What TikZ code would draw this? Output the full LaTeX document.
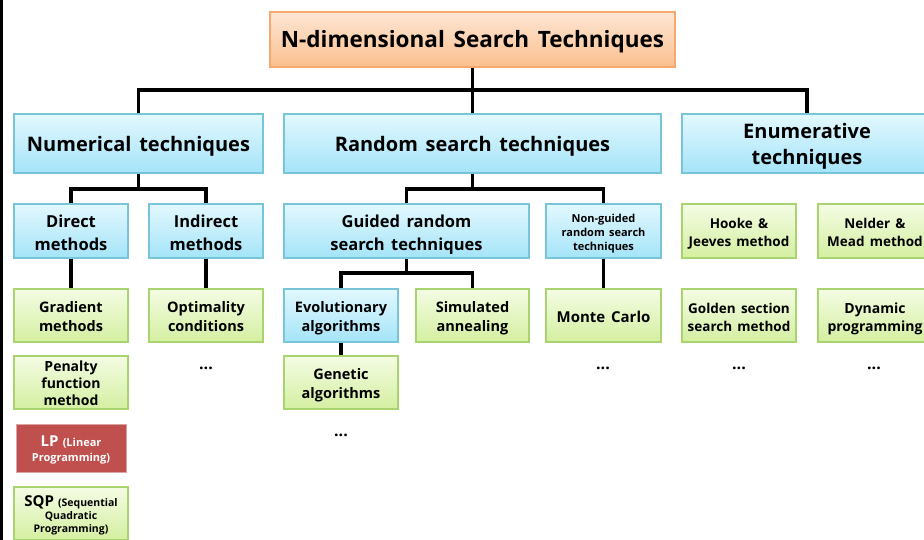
\documentclass[tikz,border=0pt]{standalone}
\usepackage{fontspec}
\setmainfont{Open Sans}[WordSpace=1.5]
\newcommand{\tx}[1]{\raisebox{-3pt}[\height][\depth]{\begin{tabular}{@{}c@{}}#1\end{tabular}}}
\begin{document}
\begin{tikzpicture}[x=1pt,y=-1pt,
  base/.style={rectangle, inner sep=0pt, font=\bfseries, line width=1.2pt},
  obox/.style={base, draw=orgB, top color=orgT, bottom color=orgD},
  bbox/.style={base, draw=bluB, top color=bluT, bottom color=bluD},
  gbox/.style={base, draw=grnB, top color=grnT, bottom color=grnD},
  rbox/.style={base, draw=redB, fill=redF, text=white, line width=0.8pt},
  conn/.style={line width=3.2pt, draw=black},
  dots/.style={inner sep=0pt, font=\bfseries\fontsize{16}{16}\selectfont}
]
\definecolor{orgB}{HTML}{F7A86E}\definecolor{orgT}{HTML}{FDE6D3}\definecolor{orgD}{HTML}{FBC08F}
\definecolor{bluB}{HTML}{78C5DA}\definecolor{bluT}{HTML}{E3F8FE}\definecolor{bluD}{HTML}{A4E4F8}
\definecolor{grnB}{HTML}{A9D36E}\definecolor{grnT}{HTML}{F4FCE4}\definecolor{grnD}{HTML}{D4EFA0}
\definecolor{redB}{HTML}{DDA3A2}\definecolor{redF}{HTML}{C0504D}
\useasboundingbox (0,0) rectangle (924,540);
\fill[white] (0,0) rectangle (924,540);
\fill[black] (0,0) rectangle (3,540);

% title
\node[obox, minimum width=405, minimum height=55, font=\bfseries\fontsize{22.5}{26}\selectfont] (title) at (472.5,39.5) {\tx{N-dimensional Search Techniques}};

% level 1
\node[bbox, minimum width=249, minimum height=59, font=\bfseries\fontsize{20}{26}\selectfont] (num) at (138.5,143.5) {\tx{Numerical techniques}};
\node[bbox, minimum width=377, minimum height=59, font=\bfseries\fontsize{20}{26}\selectfont] (rand) at (472.5,143.5) {\tx{Random search techniques}};
\node[bbox, minimum width=250, minimum height=59, font=\bfseries\fontsize{20}{26}\selectfont] (enum) at (807,143.5) {\tx{Enumerative\\techniques}};

% level 2
\node[bbox, minimum width=114, minimum height=54, font=\bfseries\fontsize{16.5}{23}\selectfont] (direct) at (71,231) {\tx{Direct\\methods}};
\node[bbox, minimum width=114, minimum height=54, font=\bfseries\fontsize{16.5}{23}\selectfont] (indirect) at (206,231) {\tx{Indirect\\methods}};
\node[bbox, minimum width=245, minimum height=54, font=\bfseries\fontsize{16.5}{23}\selectfont] (guided) at (406.5,231) {\tx{Guided random\\search techniques}};
\node[bbox, minimum width=115, minimum height=54, font=\bfseries\fontsize{11}{14}\selectfont] (nonguided) at (603.5,231) {\tx{Non-guided\\random search\\techniques}};
\node[gbox, minimum width=114, minimum height=54, font=\bfseries\fontsize{13.5}{18}\selectfont] (hooke) at (739,231) {\tx{Hooke \&\\Jeeves method}};
\node[gbox, minimum width=114, minimum height=54, font=\bfseries\fontsize{13.5}{18}\selectfont] (nelder) at (875,231) {\tx{Nelder \&\\Mead method}};

% level 3
\node[gbox, minimum width=114, minimum height=53, font=\bfseries\fontsize{14.5}{19}\selectfont] (gradient) at (71,315.5) {\tx{Gradient\\methods}};
\node[gbox, minimum width=114, minimum height=53, font=\bfseries\fontsize{14.5}{19}\selectfont] (optim) at (206,315.5) {\tx{Optimality\\conditions}};
\node[bbox, minimum width=114, minimum height=53, font=\bfseries\fontsize{14.5}{19}\selectfont] (evol) at (341,315.5) {\tx{Evolutionary\\algorithms}};
\node[gbox, minimum width=113, minimum height=53, font=\bfseries\fontsize{14.5}{19}\selectfont] (sim) at (472.5,315.5) {\tx{Simulated\\annealing}};
\node[gbox, minimum width=115, minimum height=53, font=\bfseries\fontsize{15}{19}\selectfont] (monte) at (603.5,315.5) {\tx{Monte Carlo}};
\node[gbox, minimum width=114, minimum height=53, font=\bfseries\fontsize{13.5}{18}\selectfont] (golden) at (739,315.5) {\tx{Golden section\\search method}};
\node[gbox, minimum width=114, minimum height=53, font=\bfseries\fontsize{14}{18}\selectfont] (dynamic) at (875,315.5) {\tx{Dynamic\\programming}};

% level 4
\node[gbox, minimum width=114, minimum height=53, font=\bfseries\fontsize{14}{17}\selectfont] (penalty) at (71,382.5) {\tx{Penalty\\function\\method}};
\node[gbox, minimum width=114, minimum height=53, font=\bfseries\fontsize{14.5}{19}\selectfont] (genetic) at (341,382.5) {\tx{Genetic\\algorithms}};
\node[rbox, minimum width=110, minimum height=48, font=\bfseries\fontsize{11}{15}\selectfont] (lp) at (71,448) {\tx{{\fontsize{15}{15}\selectfont LP} (Linear\\Programming)}};
\node[gbox, minimum width=114, minimum height=53, font=\bfseries\fontsize{10.5}{13}\selectfont] (sqp) at (71,513.5) {\tx{{\fontsize{15}{15}\selectfont SQP} (Sequential\\Quadratic\\Programming)}};

% dots
\node[dots] (d1) at (206,368) {...};
\node[dots] (d2) at (341,435) {...};
\node[dots] (d3) at (603,368) {...};
\node[dots] (d4) at (739,368) {...};
\node[dots] (d5) at (874,368) {...};

% connectors
\coordinate (j1) at (472.5,90);
\coordinate (j2) at (138.5,189);
\coordinate (j3) at (472.5,189);
\coordinate (j4) at (406.5,273);
\draw[conn] (title.south) -- (j1);
\draw[conn] (num.north) |- (j1) -| (enum.north);
\draw[conn] (j1) -- (rand.north);
\draw[conn] (num.south) -- (j2);
\draw[conn] (direct.north) |- (j2) -| (indirect.north);
\draw[conn] (rand.south) -- (j3);
\draw[conn] (guided.north) |- (j3) -| (nonguided.north);
\draw[conn] (guided.south) -- (j4);
\draw[conn] (evol.north) |- (j4) -| (sim.north);
\draw[conn] (direct.south) -- (gradient.north);
\draw[conn] (indirect.south) -- (optim.north);
\draw[conn] (nonguided.south) -- (monte.north);
\draw[conn] (evol.south) -- (genetic.north);
\end{tikzpicture}
\end{document}
